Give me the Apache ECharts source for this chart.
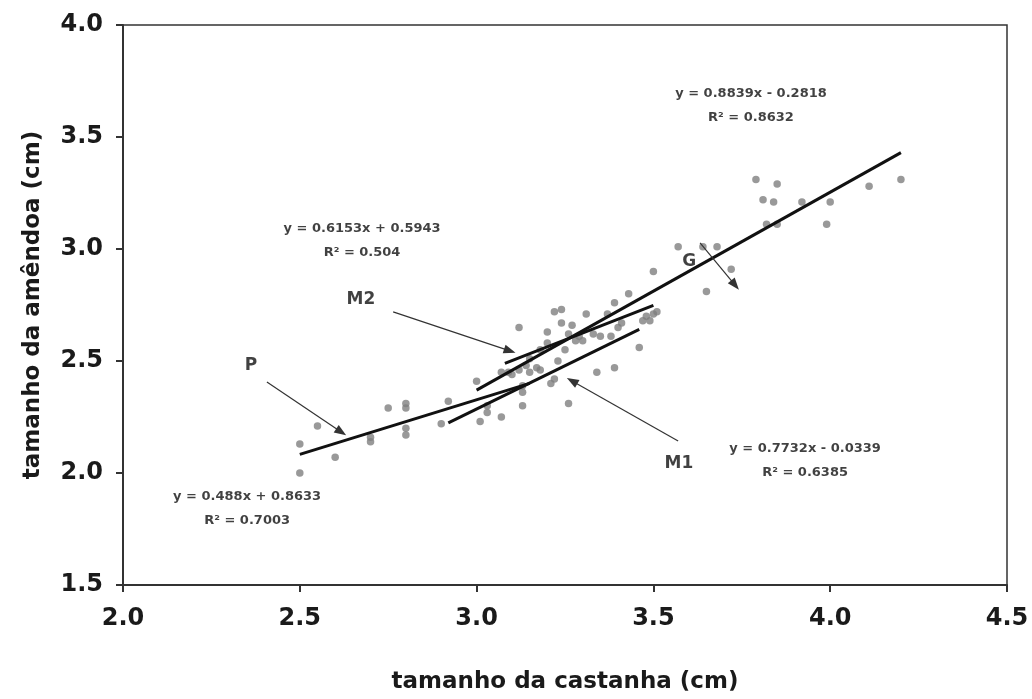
<!DOCTYPE html>
<html>
<head>
<meta charset="utf-8">
<script src="https://cdn.jsdelivr.net/npm/echarts@6/dist/echarts.min.js"></script>
<style>
  html, body { margin: 0; padding: 0; background: #fff; }
  #chart { width: 1032px; height: 699px; }
</style>
</head>
<body>
<div id="chart"></div>
<script>
// tamanho da castanha (x) x tamanho da amêndoa (y)
const castanha = [
  2.50, 2.50, 2.55, 2.60, 2.70, 2.70, 2.75, 2.80, 2.80, 2.80, 2.80, 2.90, 2.92,
  3.00, 3.01, 3.03, 3.03, 3.07, 3.07, 3.09, 3.10, 3.12, 3.12, 3.13, 3.13, 3.13,
  3.14, 3.15, 3.15, 3.17, 3.18, 3.18, 3.20, 3.20, 3.21, 3.22, 3.22, 3.23, 3.24,
  3.24, 3.25, 3.26, 3.26, 3.27, 3.28, 3.29, 3.30, 3.31, 3.33, 3.34, 3.35, 3.37,
  3.38, 3.39, 3.39, 3.40, 3.41, 3.43, 3.46, 3.47, 3.48, 3.49, 3.50, 3.50, 3.51,
  3.57, 3.64, 3.65, 3.68, 3.72, 3.79, 3.81, 3.82, 3.84, 3.85, 3.85, 3.92, 3.99,
  4.00, 4.11, 4.20
];
const amendoa = [
  2.00, 2.13, 2.21, 2.07, 2.14, 2.16, 2.29, 2.31, 2.29, 2.20, 2.17, 2.22, 2.32,
  2.41, 2.23, 2.27, 2.30, 2.25, 2.45, 2.45, 2.44, 2.65, 2.46, 2.39, 2.36, 2.30,
  2.48, 2.51, 2.45, 2.47, 2.46, 2.55, 2.63, 2.58, 2.40, 2.72, 2.42, 2.50, 2.73,
  2.67, 2.55, 2.31, 2.62, 2.66, 2.59, 2.61, 2.59, 2.71, 2.62, 2.45, 2.61, 2.71,
  2.61, 2.76, 2.47, 2.65, 2.67, 2.80, 2.56, 2.68, 2.70, 2.68, 2.71, 2.90, 2.72,
  3.01, 3.01, 2.81, 3.01, 2.91, 3.31, 3.22, 3.11, 3.21, 3.29, 3.11, 3.21, 3.11,
  3.21, 3.28, 3.31
];

// retas de tendência (extremos)
const linhaP  = [[2.50, 2.083], [3.15, 2.400]];
const linhaM1 = [[2.92, 2.224], [3.46, 2.641]];
const linhaM2 = [[3.08, 2.489], [3.50, 2.748]];
const linhaG  = [[3.00, 2.370], [4.20, 3.430]];

// equações e rótulos
const equacoes = [
  'y = 0.8839x - 0.2818\nR² = 0.8632',
  'y = 0.6153x + 0.5943\nR² = 0.504',
  'y = 0.7732x - 0.0339\nR² = 0.6385',
  'y = 0.488x + 0.8633\nR² = 0.7003'
];
const posEquacoes = [[3.776, 3.638], [2.676, 3.036], [3.929, 2.054], [2.351, 1.839]];
const rotulos = ['P', 'M2', 'M1', 'G'];
const posRotulos = [[2.362, 2.478], [2.673, 2.772], [3.572, 2.040], [3.601, 2.946]];
const setas = [
  [[2.407, 2.406], [2.617, 2.183]],
  [[2.764, 2.719], [3.094, 2.545]],
  [[3.570, 2.143], [3.270, 2.411]],
  [[3.632, 3.027], [3.731, 2.839]]
];

const xTicks = ['2.0', '2.5', '3.0', '3.5', '4.0', '4.5'];

const fonte = 'DejaVu Sans';
const chart = echarts.init(document.getElementById('chart'));

const linha = (d) => ({
  type: 'line', data: d, symbol: 'none', silent: true,
  lineStyle: { color: '#111', width: 3 }, z: 3
});

chart.setOption({
  animation: false,
  grid: {
    left: 123, right: 25, top: 25, bottom: 114,
    show: true, borderColor: '#333', borderWidth: 1.5
  },
  xAxis: {
    type: 'value', min: 2, max: 4.5, interval: 0.5,
    name: 'tamanho da castanha (cm)', nameLocation: 'middle', nameGap: 86,
    nameTextStyle: { fontFamily: fonte, fontWeight: 'bold', fontSize: 23, color: '#1a1a1a' },
    axisLine: { show: true, lineStyle: { color: '#333', width: 2 } },
    axisTick: { show: true, length: 7, lineStyle: { color: '#333', width: 2 } },
    axisLabel: {
      fontFamily: fonte, fontWeight: 'bold', fontSize: 24, color: '#1a1a1a', margin: 22,
      formatter: (v) => xTicks[Math.round((v - 2) / 0.5)]
    },
    splitLine: { show: false }
  },
  yAxis: {
    type: 'value', min: 1.5, max: 4, interval: 0.5,
    name: 'tamanho da amêndoa (cm)', nameLocation: 'middle', nameGap: 78,
    nameTextStyle: { fontFamily: fonte, fontWeight: 'bold', fontSize: 23, color: '#1a1a1a' },
    axisLine: { show: true, lineStyle: { color: '#333', width: 2 } },
    axisTick: { show: true, length: 7, lineStyle: { color: '#333', width: 2 } },
    axisLabel: {
      fontFamily: fonte, fontWeight: 'bold', fontSize: 24, color: '#1a1a1a', margin: 20,
      formatter: (v) => v.toFixed(1)
    },
    splitLine: { show: false }
  },
  series: [
    {
      type: 'scatter',
      data: castanha.map((x, i) => [x, amendoa[i]]),
      symbol: 'circle', symbolSize: 7.5,
      itemStyle: { color: '#808080' },
      z: 2
    },
    linha(linhaP), linha(linhaM1), linha(linhaM2), linha(linhaG),
    {
      type: 'scatter', symbolSize: 0, silent: true, z: 5,
      data: equacoes.map((t, i) => ({ value: posEquacoes[i], name: t })),
      label: {
        show: true, position: 'inside', formatter: '{b}', align: 'center',
        fontFamily: fonte, fontWeight: 'bold', fontSize: 13, color: '#111',
        textBorderWidth: 0, lineHeight: 24
      },
      markLine: {
        silent: true, symbol: ['none', 'triangle'], symbolSize: [9, 12],
        lineStyle: { color: '#333', width: 1.2, type: 'solid' },
        label: { show: false },
        data: setas.map((s) => [{ coord: s[0] }, { coord: s[1] }])
      }
    },
    {
      type: 'scatter', symbolSize: 0, silent: true, z: 5,
      data: rotulos.map((t, i) => ({ value: posRotulos[i], name: t })),
      label: {
        show: true, position: 'inside', formatter: '{b}',
        fontFamily: fonte, fontWeight: 'bold', fontSize: 17, color: '#111',
        textBorderWidth: 0
      }
    }
  ]
});
</script>
</body>
</html>
